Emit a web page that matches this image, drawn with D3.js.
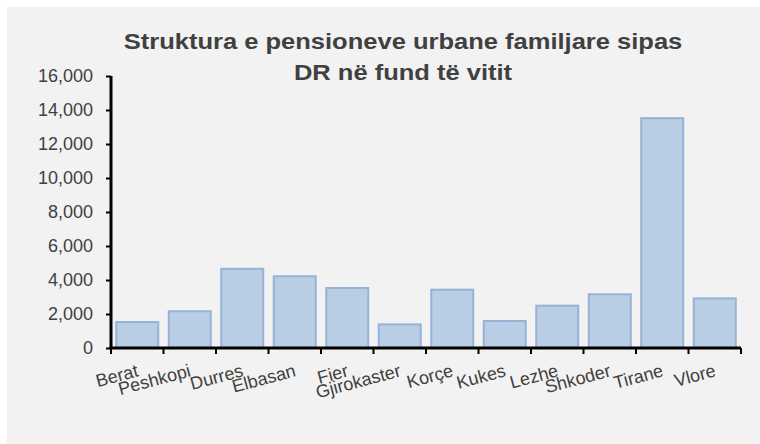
<!DOCTYPE html>
<html>
<head>
<meta charset="utf-8">
<script src="https://cdn.jsdelivr.net/npm/d3@7"></script>
<style>
  body { margin: 0; background: #ffffff; }
  text { font-family: 'Liberation Sans', Arial, sans-serif; }
</style>
</head>
<body>
<svg id="chart" width="760" height="444"></svg>
<script>
const districts = ['Berat', 'Peshkopi', 'Durres', 'Elbasan', 'Fier', 'Gjirokaster', 'Korçe', 'Kukes', 'Lezhe', 'Shkoder', 'Tirane', 'Vlore']
const pensions = [1530, 2160, 4660, 4220, 3530, 1390, 3430, 1590, 2490, 3160, 13520, 2920]
const yTicks = [0, 2000, 4000, 6000, 8000, 10000, 12000, 14000, 16000]
const titleLines = ['Struktura e pensioneve urbane familjare sipas', 'DR në fund të vitit']

const margin = { top: 76, right: 19, bottom: 96, left: 111 }
const width = 760 - margin.left - margin.right
const height = 444 - margin.top - margin.bottom

const svg = d3.select('#chart')

svg.append('rect')
  .attr('x', 7)
  .attr('y', 7)
  .attr('width', 753)
  .attr('height', 437)
  .attr('fill', '#f2f2f2')

const g = svg.append('g')
  .attr('id', 'graph-g')
  .attr('transform', 'translate(' + margin.left + ',' + margin.top + ')')

const x = d3.scaleBand().domain(districts).range([0, width]).paddingInner(0.2).paddingOuter(0.1)
const y = d3.scaleLinear().domain([0, 16000]).range([height, 0])

/**
 * Draws the title, two centred lines.
 * The reference glyphs are wider than Liberation Sans, hence the x scale.
 */
function drawTitle () {
  svg.append('g')
    .attr('transform', 'translate(403,49) scale(1.16,1)')
    .append('text')
    .attr('text-anchor', 'middle')
    .attr('font-size', 22)
    .attr('font-weight', 'bold')
    .attr('fill', '#404040')
    .selectAll('tspan')
    .data(titleLines)
    .enter()
    .append('tspan')
    .attr('x', 0)
    .attr('dy', (d, i) => i === 0 ? 0 : 31)
    .text(d => d)
}

/**
 * Draws the bars.
 */
function drawBars () {
  g.selectAll('rect.bar')
    .data(districts)
    .enter()
    .append('rect')
    .attr('class', 'bar')
    .attr('x', d => x(d))
    .attr('y', (d, i) => y(pensions[i]))
    .attr('width', x.bandwidth())
    .attr('height', (d, i) => height - y(pensions[i]))
    .attr('fill', '#b9cde5')
    .attr('stroke', '#95b3d7')
    .attr('stroke-width', 2)
}

/**
 * Draws both axes.
 */
function drawAxes () {
  const yAxis = g.append('g')
    .call(d3.axisLeft(y).tickValues(yTicks).tickFormat(d3.format(',')).tickSize(5).tickPadding(13))
  yAxis.select('.domain').attr('stroke-width', 3).attr('d', 'M0,0V' + height)
  yAxis.selectAll('.tick line').attr('stroke-width', 2)
  yAxis.selectAll('text')
    .attr('font-size', 18)
    .attr('fill', '#404040')
    .attr('font-family', null)

  const xAxis = g.append('g')
    .attr('transform', 'translate(0,' + height + ')')
  xAxis.append('line')
    .attr('x1', -1.5)
    .attr('x2', width)
    .attr('stroke', '#000')
    .attr('stroke-width', 3)
  const bounds = d3.range(districts.length + 1).map(i => i * width / districts.length)
  xAxis.selectAll('line.tick')
    .data(bounds)
    .enter()
    .append('line')
    .attr('class', 'tick')
    .attr('x1', d => d)
    .attr('x2', d => d)
    .attr('y1', 0)
    .attr('y2', 6)
    .attr('stroke', '#000')
    .attr('stroke-width', 2)

  xAxis.selectAll('text.label')
    .data(districts)
    .enter()
    .append('text')
    .attr('class', 'label')
    .attr('text-anchor', 'end')
    .attr('font-size', 18)
    .attr('fill', '#404040')
    .attr('transform', d => 'translate(' + (x(d) + x.bandwidth() / 2 + 2) + ',28) rotate(-15)')
    .text(d => d)
}

drawTitle()
drawBars()
drawAxes()
</script>
</body>
</html>
